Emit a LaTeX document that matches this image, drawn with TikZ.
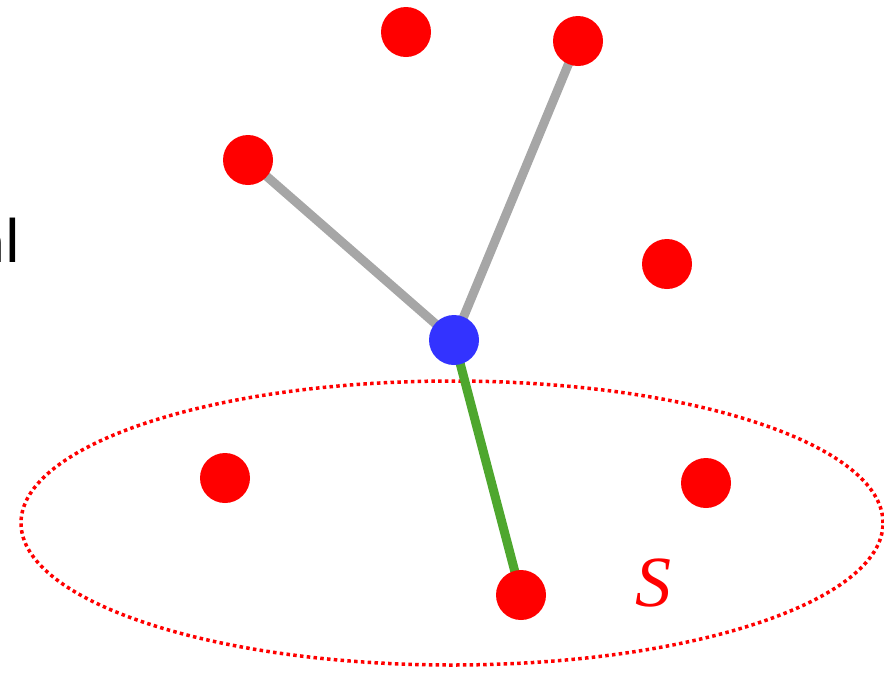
\documentclass[tikz,border=0pt]{standalone}
\usepackage{fontspec}
\newfontfamily\carl{Carlito}
\newfontfamily\lserif{Liberation Serif}
\begin{document}
\begin{tikzpicture}[x=1pt,y=-1pt,
  reddot/.style={circle,fill=red,inner sep=0pt,minimum size=50pt},
  bluedot/.style={circle,fill={rgb,255:red,51;green,51;blue,255},inner sep=0pt,minimum size=50pt},
  grayedge/.style={line width=9pt,draw={rgb,255:red,166;green,166;blue,166}},
  greenedge/.style={line width=9pt,draw={rgb,255:red,78;green,167;blue,46}}]
\useasboundingbox (0,0) rectangle (884,673);
\begin{scope}
\clip (0,0) rectangle (884,673);
\node[anchor=base east,inner sep=0pt,font=\carl\fontsize{64}{64}\selectfont] (frag) at (20,262) {al};
\draw[red,line width=3.5pt,dash pattern=on 3.5pt off 3.3pt] (452,523) ellipse [x radius=431pt,y radius=142pt];
\end{scope}
\coordinate (c) at (454,340);
\coordinate (a) at (248,160);
\coordinate (b) at (578,41);
\coordinate (d) at (521,595);
\draw[grayedge] (c) -- (a);
\draw[grayedge] (c) -- (b);
\draw[greenedge] (c) -- (d);
\node[reddot] (r1) at (406,32) {};
\node[reddot] (r2) at (b) {};
\node[reddot] (r3) at (a) {};
\node[reddot] (r4) at (667,264) {};
\node[reddot] (r5) at (225,478) {};
\node[reddot] (r6) at (706,483) {};
\node[reddot] (r7) at (d) {};
\node[bluedot] (center) at (c) {};
\node[red,inner sep=0pt,anchor=base,font=\lserif\itshape\fontsize{72}{72}\selectfont] (S) at (653,606) {S};
\end{tikzpicture}
\end{document}
